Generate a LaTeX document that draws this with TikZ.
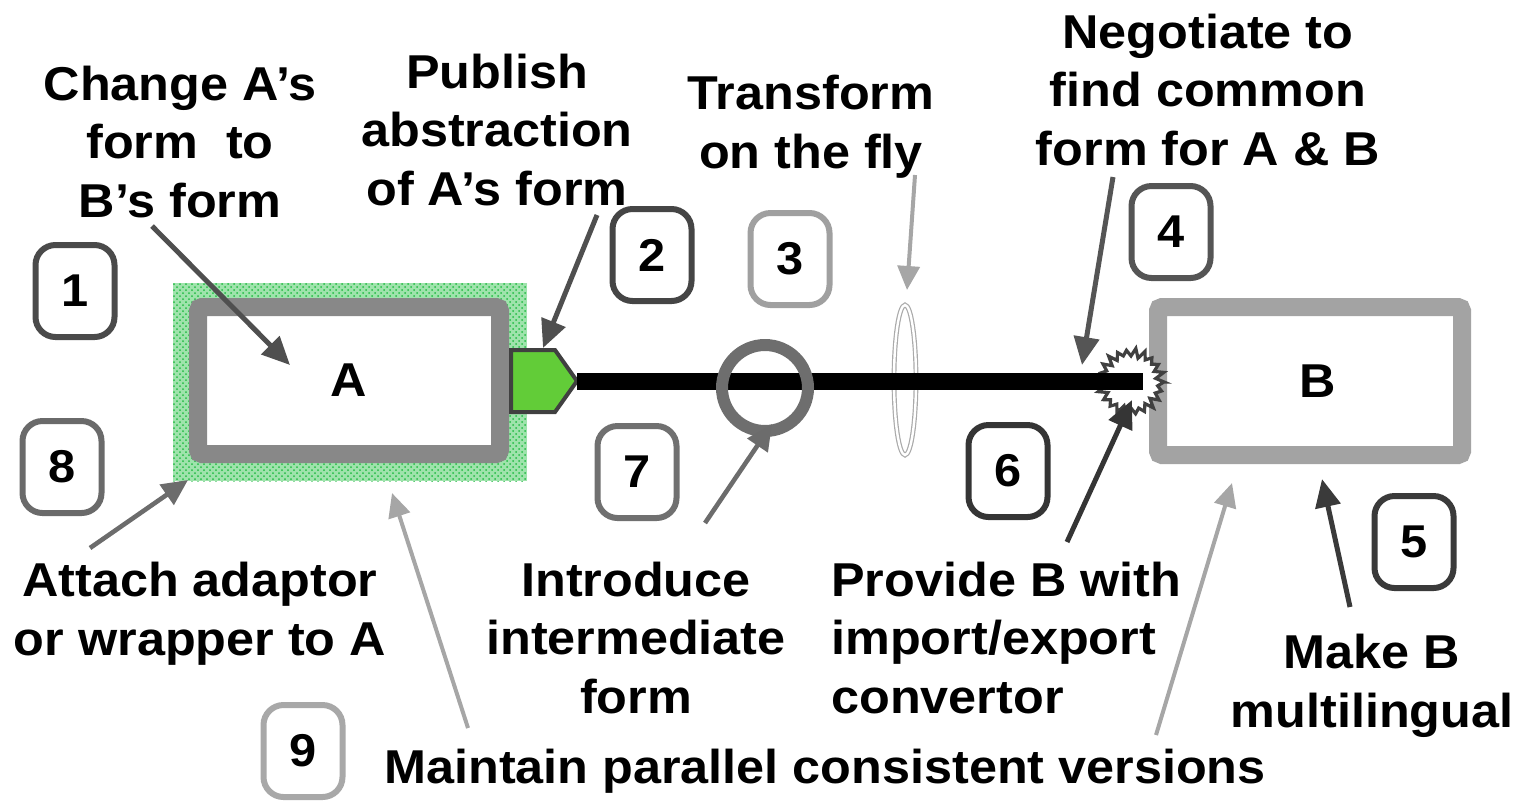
\documentclass[tikz,border=0pt]{standalone}
\usepackage{fontspec}
\setmainfont{Liberation Sans}[FakeStretch=1.06]
\usetikzlibrary{arrows.meta,patterns,shapes.geometric}
\definecolor{boxAgray}{HTML}{888888}
\definecolor{boxBgray}{HTML}{A3A3A3}
\definecolor{wrapgreen}{HTML}{9FE3AC}
\definecolor{dotgreen}{HTML}{22BB44}
\definecolor{tabgreen}{HTML}{62CC38}
\definecolor{tabedge}{HTML}{404040}
\definecolor{circgray}{HTML}{6E6E6E}
\definecolor{lensgray}{HTML}{AAAAAA}
\definecolor{darkarrow}{HTML}{4F4F4F}
\definecolor{midarrow}{HTML}{6C6C6C}
\definecolor{lightarrow}{HTML}{A6A6A6}
\definecolor{ca}{HTML}{4A4A4A}
\definecolor{cb}{HTML}{454545}
\definecolor{cc}{HTML}{A0A0A0}
\definecolor{cd}{HTML}{555555}
\definecolor{ce}{HTML}{3A3A3A}
\definecolor{cf}{HTML}{353535}
\definecolor{cg}{HTML}{707070}
\definecolor{ch}{HTML}{6A6A6A}
\definecolor{ci}{HTML}{A8A8A8}
\begin{document}
\begin{tikzpicture}[x=0.5pt,y=-0.5pt,
  txt/.style={align=center, font=\fontsize{23.75pt}{29.25pt}\selectfont\bfseries, inner sep=0pt, anchor=base},
  numbox/.style={draw, rounded corners=10pt, line width=3pt, minimum width=39.5pt, minimum height=46pt, inner sep=0pt, fill=white, font=\fontsize{23pt}{27pt}\selectfont\bfseries},
  bigbox/.style={draw, line width=9pt, rounded corners=2pt, fill=white, inner sep=0pt, font=\fontsize{23.75pt}{29pt}\selectfont\bfseries},
  darr/.style={draw=darkarrow, line width=2.5pt, -{Triangle[length=14pt,width=12.5pt]}},
  marr/.style={draw=midarrow, line width=2.3pt, -{Triangle[length=13pt,width=12pt]}},
  larr/.style={draw=lightarrow, line width=2pt, -{Triangle[length=12pt,width=11pt]}},
  wire/.style={draw=black, line width=8.5pt}
]
\useasboundingbox (0,0) rectangle (1518,800);

% wrapper around A
\node[minimum width=177pt, minimum height=99pt, inner sep=0pt, fill=wrapgreen,
      postaction={pattern=crosshatch dots, pattern color=dotgreen}] (wrap) at (350,382) {};
% box A
\node[bigbox, draw=boxAgray, minimum width=151pt, minimum height=73.5pt] (A) at (349,380.5) {A};
% green tab
\draw[fill=tabgreen, draw=tabedge, line width=2pt, line join=miter]
  (511,350) -- (555,350) -- (577,381) -- (555,412) -- (511,412) -- cycle;
\coordinate (tabtip) at (577,381);
% lens (transform on the fly)
\node[ellipse, draw=lensgray, line width=0.6pt, double=white, double distance=1.2pt,
      minimum width=11pt, minimum height=75pt, inner sep=0pt] (lens) at (905,380) {};
% box B
\node[bigbox, draw=boxBgray, minimum width=152pt, minimum height=74pt] (B) at (1310,381) {\hspace*{8pt}B};
% starburst adapter at B
\coordinate (burst) at (1131,382);
\draw[draw=tabedge, fill=white, line width=1.6pt, line join=miter]
  plot[samples=45, domain=0:44, variable=\t]
  ({1131+(29.5+3.5*cos(180*\t)+1.2*sin(131*\t))*cos(\t*360/44)}, {382+(29.5+3.5*cos(180*\t)+1.2*sin(131*\t))*sin(\t*360/44)}) -- cycle;
% wire
\coordinate (wireend) at (1143,381);
\draw[wire] (tabtip) -- (wireend);
% intermediate form circle
\node[circle, draw=circgray, line width=6pt, minimum size=43pt, inner sep=0pt] (mid) at (765,388) {};

% arrow end points
\coordinate (s1) at (152,226);  \coordinate (t1) at (290,365);
\coordinate (s2) at (597,215);  \coordinate (t2) at (543,348);
\coordinate (s3) at (915,175);  \coordinate (t3) at (907,290);
\coordinate (s4) at (1113,177); \coordinate (t4) at (1082,365);
\coordinate (s5) at (1067,542); \coordinate (t5) at (1132,400);
\coordinate (s6) at (705,523);  \coordinate (t6) at (772,424);
\coordinate (s7) at (90,548);   \coordinate (t7) at (188,480);
\coordinate (s8) at (468,728);  \coordinate (t8) at (392,493);
\coordinate (s9) at (1156,735); \coordinate (t9) at (1232,483);
\coordinate (s10) at (1350,607); \coordinate (t10) at (1322,479);

\draw[darr] (s1) -- (t1);
\draw[darr] (s2) -- (t2);
\draw[larr] (s3) -- (t3);
\draw[darr, draw=cd] (s4) -- (t4);
\draw[darr, draw=cf] (s5) -- (t5);
\draw[marr] (s6) -- (t6);
\draw[marr] (s7) -- (t7);
\draw[larr] (s8) -- (t8);
\draw[larr] (s9) -- (t9);
\draw[darr, draw=ce] (s10) -- (t10);

% numbered boxes
\node[numbox, draw=ca] (n1) at (75,291) {1};
\node[numbox, draw=cb] (n2) at (652,255) {2};
\node[numbox, draw=cc] (n3) at (790,259) {3};
\node[numbox, draw=cd] (n4) at (1171,232) {4};
\node[numbox, draw=ce] (n5) at (1414,542) {5};
\node[numbox, draw=cf] (n6) at (1008,471) {6};
\node[numbox, draw=cg] (n7) at (637,472) {7};
\node[numbox, draw=ch] (n8) at (62,467) {8};
\node[numbox, draw=ci] (n9) at (303,751) {9};

% labels (anchor = baseline of the last line)
\node[txt] (tChange) at (180,217) {Change A’s\\form\ \ to\\B’s form};
\node[txt] (tPublish) at (497,205) {Publish\\abstraction\\of A’s form};
\node[txt] (tTransform) at (811,168) {Transform\\on the fly};
\node[txt] (tNegotiate) at (1208,165) {Negotiate to\\find common\\form for A \& B};
\node[txt] (tAttach) at (200,655) {Attach adaptor\\or wrapper to A};
\node[txt] (tIntro) at (636,713) {Introduce\\intermediate\\form};
\node[txt, align=left, anchor=base west] (tProvide) at (831,713) {Provide B with\\import/export\\convertor};
\node[txt] (tMake) at (1372,727) {Make B\\multilingual};
\node[txt] (tMaintain) at (825,783) {Maintain parallel consistent versions};
\end{tikzpicture}
\end{document}
